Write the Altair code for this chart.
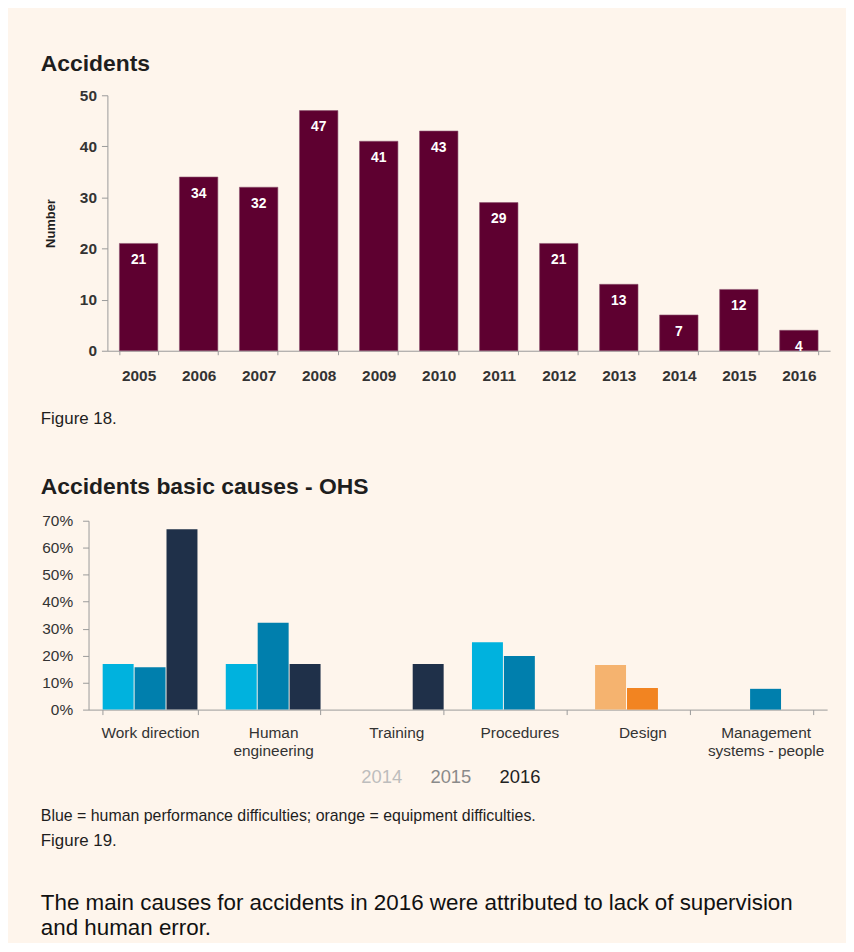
import altair as alt
import pandas as pd

# ---------------- data ----------------
years = ["2005", "2006", "2007", "2008", "2009", "2010",
         "2011", "2012", "2013", "2014", "2015", "2016"]
accidents = [21, 34, 32, 47, 41, 43, 29, 21, 13, 7, 12, 4]

categories = ["Work direction", "Human engineering", "Training",
              "Procedures", "Design", "Management systems - people"]
pct_2014 = [16.9, 16.9, 0, 25.0, 16.5, 0]
pct_2015 = [15.7, 32.2, 0, 19.9, 8.0, 7.7]
pct_2016 = [66.8, 16.9, 16.9, 0, 0, 0]
cause_type = ["Human", "Human", "Human", "Human", "Equipment", "Human"]
legend_years = ["2014", "2015", "2016"]

title_top = "Accidents"
title_bottom = "Accidents basic causes - OHS"
fig18 = "Figure 18."
fig19 = "Figure 19."
footnote = "Blue = human performance difficulties; orange = equipment difficulties."
paragraph = ["The main causes for accidents in 2016 were attributed to lack of supervision",
             "and human error."]

# ---------------- style ----------------
FONT = "Liberation Sans"
BG = "#FEF5EC"
MAROON = "#5E0030"
AXIS_GREY = "#9a9a9a"
TEXT = "#1e1e1e"
LABEL = "#333333"
LEFT = -67  # left edge of titles / captions relative to the plot origin

# ---------------- top chart ----------------
df1 = pd.DataFrame({"year": years, "n": accidents})
W1, H1 = 727, 257

x1 = alt.X("year:N", sort=years,
           scale=alt.Scale(paddingInner=0.36, paddingOuter=0.2),
           axis=alt.Axis(title=None, labelAngle=0, tickBand="extent",
                         domainColor=AXIS_GREY, tickColor=AXIS_GREY, tickSize=4,
                         labelFont=FONT, labelFontSize=15.5, labelFontWeight="bold",
                         labelColor=LABEL, labelPadding=14))
y1 = alt.Y("n:Q", scale=alt.Scale(domain=[0, 50]),
           axis=alt.Axis(values=[0, 10, 20, 30, 40, 50], grid=False,
                         title="Number", titleFont=FONT, titleFontSize=13,
                         titleFontWeight="bold", titleColor=TEXT, titlePadding=22,
                         domainColor=AXIS_GREY, tickColor=AXIS_GREY, tickSize=6,
                         labelFont=FONT, labelFontSize=15.5, labelFontWeight="bold",
                         labelColor=LABEL, labelPadding=5))

bars1 = alt.Chart(df1).mark_bar(color=MAROON, stroke="#8c5570", strokeWidth=0.6).encode(x=x1, y=y1)
vals1 = alt.Chart(df1).mark_text(baseline="top", dy=10, color="white", font=FONT,
                                 fontSize=14, fontWeight="bold").encode(
    x=alt.X("year:N", sort=years), y="n:Q", text="n:Q")
fig18_layer = alt.Chart(pd.DataFrame({"t": [fig18]})).mark_text(
    align="left", baseline="middle", font=FONT, fontSize=17, color=TEXT).encode(
    x=alt.value(LEFT), y=alt.value(H1 + 69), text="t:N")

top = alt.layer(bars1, vals1, fig18_layer).properties(
    width=W1, height=H1,
    title=alt.TitleParams(title_top, anchor="start", frame="group", dx=LEFT,
                          font=FONT, fontSize=23, fontWeight="bold", color=TEXT,
                          offset=12))

# ---------------- bottom chart ----------------
rows = []
for i, c in enumerate(categories):
    for yr, arr in zip(legend_years, [pct_2014, pct_2015, pct_2016]):
        if arr[i] > 0:
            rows.append({"cat": c, "year": yr, "pct": arr[i] / 100.0,
                         "series": cause_type[i] + yr})
df2 = pd.DataFrame(rows)
SHIFT = 19            # the lower plot starts further left than the upper one
W2, H2 = 724, 190

series_domain = ["Human2014", "Human2015", "Human2016", "Equipment2014", "Equipment2015"]
series_range = ["#00B2DE", "#007FAD", "#1F3049", "#F5B36F", "#F28421"]

label_expr = ("datum.label == 'Human engineering' ? ['Human', 'engineering'] : "
              "datum.label == 'Management systems - people' ? ['Management', 'systems - people'] : "
              "datum.label")

bars2 = alt.Chart(df2).mark_bar().encode(
    x=alt.X("cat:N", sort=categories,
            scale=alt.Scale(domain=categories, range=[-SHIFT, W2],
                            paddingInner=0.23, paddingOuter=0.115),
            axis=alt.Axis(title=None, labelAngle=0, tickBand="extent",
                          domainColor=AXIS_GREY, tickColor=AXIS_GREY, tickSize=5,
                          labelFont=FONT, labelFontSize=15.5, labelColor=LABEL,
                          labelPadding=11, labelLineHeight=18, labelBaseline="top",
                          labelExpr=label_expr)),
    xOffset=alt.XOffset("year:N", sort=legend_years,
                        scale=alt.Scale(domain=legend_years, paddingInner=0.03)),
    y=alt.Y("pct:Q", scale=alt.Scale(domain=[0, 0.7]),
            axis=alt.Axis(values=[0, 0.1, 0.2, 0.3, 0.4, 0.5, 0.6, 0.7], format=".0%",
                          grid=False, title=None, offset=SHIFT,
                          domainColor=AXIS_GREY, tickColor=AXIS_GREY, tickSize=6,
                          labelFont=FONT, labelFontSize=15.5, labelColor=LABEL,
                          labelPadding=10)),
    color=alt.Color("series:N", scale=alt.Scale(domain=series_domain, range=series_range),
                    legend=None),
)

legend_layer = alt.Chart(pd.DataFrame({"year": legend_years})).mark_text(
    font=FONT, fontSize=18.5, baseline="middle").encode(
    x=alt.X("year:N", sort=legend_years,
            scale=alt.Scale(type="point", domain=legend_years, range=[276, 415], padding=0),
            axis=None),
    y=alt.value(258),
    text="year:N",
    color=alt.Color("year:N", scale=alt.Scale(domain=legend_years,
                                              range=["#bdbdbd", "#8a8a8a", "#222222"]),
                    legend=None),
)

foot_layer = alt.Chart(pd.DataFrame({"t": [footnote]})).mark_text(
    align="left", baseline="middle", font=FONT, fontSize=16, color=TEXT).encode(
    x=alt.value(LEFT), y=alt.value(297), text="t:N")
fig19_layer = alt.Chart(pd.DataFrame({"t": [fig19]})).mark_text(
    align="left", baseline="middle", font=FONT, fontSize=17, color=TEXT).encode(
    x=alt.value(LEFT), y=alt.value(322), text="t:N")
para1_layer = alt.Chart(pd.DataFrame({"t": [paragraph[0]]})).mark_text(
    align="left", baseline="middle", font=FONT, fontSize=22.5, color="#111111").encode(
    x=alt.value(LEFT), y=alt.value(385), text="t:N")
para2_layer = alt.Chart(pd.DataFrame({"t": [paragraph[1]]})).mark_text(
    align="left", baseline="middle", font=FONT, fontSize=22.5, color="#111111").encode(
    x=alt.value(LEFT), y=alt.value(410), text="t:N")

bottom = alt.layer(bars2, legend_layer, foot_layer, fig19_layer,
                   para1_layer, para2_layer).resolve_scale(
    x="independent", color="independent").properties(
    width=W2, height=H2,
    title=alt.TitleParams(title_bottom, anchor="start", frame="group", dx=LEFT,
                          font=FONT, fontSize=23, fontWeight="bold", color=TEXT,
                          offset=15))

chart = alt.vconcat(top, bottom, spacing=49).properties(
    background=BG,
    padding={"left": 33, "top": 43, "right": 0, "bottom": 0},
).configure(font=FONT).configure_view(strokeWidth=0, stroke="transparent")

chart.save("out.html", embed_options={"renderer": "svg", "actions": False})
